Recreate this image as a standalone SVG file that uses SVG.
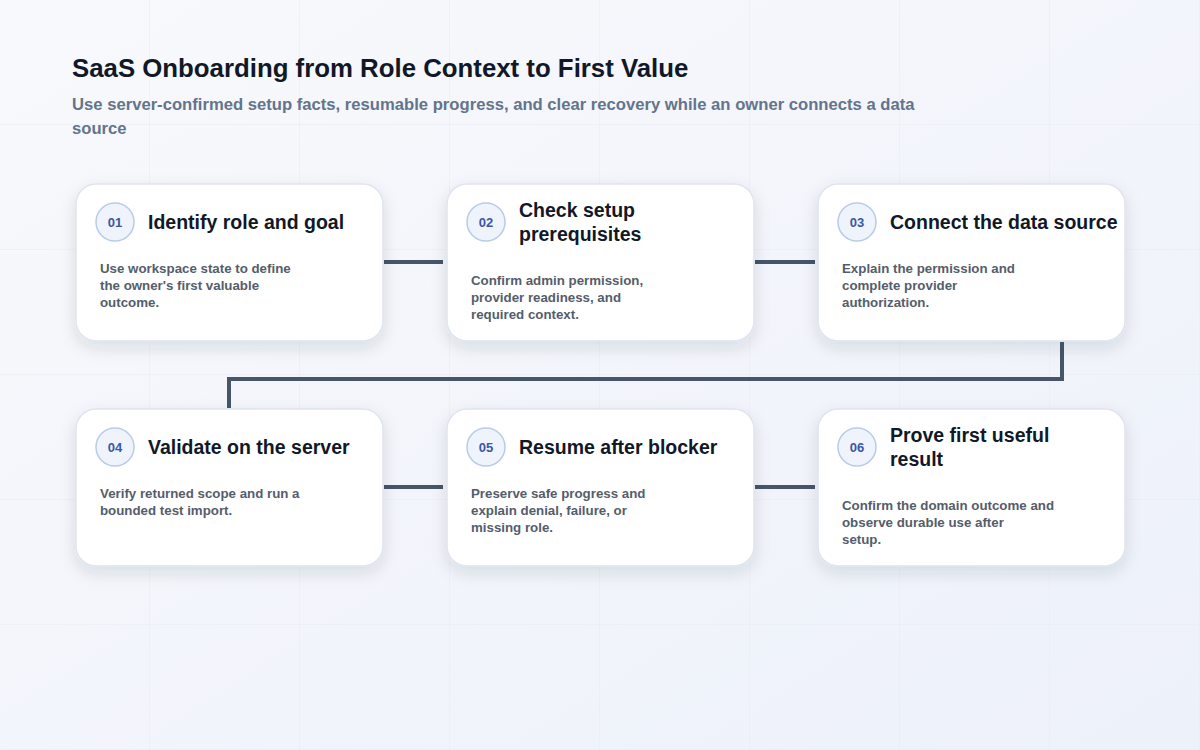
<svg xmlns="http://www.w3.org/2000/svg" width="1200" height="750" viewBox="0 0 1200 750">
<defs>
<linearGradient id="bg" x1="0" y1="0" x2="1" y2="1">
<stop offset="0" stop-color="#f8f9fc"/>
<stop offset="1" stop-color="#edf1fa"/>
</linearGradient>
<pattern id="grid" width="150" height="125" patternUnits="userSpaceOnUse">
<path d="M150 0V125M0 125H150" fill="none" stroke="#e6eaf2" stroke-width="1"/>
</pattern>
<filter id="sh" x="-20%" y="-20%" width="140%" height="150%">
<feDropShadow dx="0" dy="6" stdDeviation="8" flood-color="#1e293b" flood-opacity="0.12"/>
</filter>
</defs>
<style>
.card{fill:#ffffff;stroke:#dfe4ee;stroke-width:1.5}
.badge{fill:#eef3fc;stroke:#b9cbea;stroke-width:1.5}
.num{font-family:"Liberation Sans",Arial,sans-serif;font-weight:700;font-size:13px;fill:#3b57a6;text-anchor:middle}
.ttl{font-family:"Liberation Sans",Arial,sans-serif;font-weight:700;font-size:19.5px;fill:#111827}
.desc{font-family:"Liberation Sans",Arial,sans-serif;font-weight:700;font-size:13.3px;fill:#555d6b}
.conn{fill:none;stroke:#475569;stroke-width:4;stroke-linejoin:miter}
.h1{font-family:"Liberation Sans",Arial,sans-serif;font-weight:700;font-size:25.8px;fill:#111827}
.sub{font-family:"Liberation Sans",Arial,sans-serif;font-weight:700;font-size:16.65px;fill:#64748b}
</style>
<rect width="1200" height="750" fill="url(#bg)"/>
<rect width="1200" height="750" fill="url(#grid)"/>
<text class="h1" x="72" y="77">SaaS Onboarding from Role Context to First Value</text>
<text class="sub" x="72" y="110">Use server-confirmed setup facts, resumable progress, and clear recovery while an owner connects a data</text>
<text class="sub" x="72" y="134">source</text>
<g id="connectors">
<path class="conn" d="M384 262H443"/>
<path class="conn" d="M755 262H815"/>
<path class="conn" d="M1062 342V379H229V408"/>
<path class="conn" d="M384 487H443"/>
<path class="conn" d="M755 487H815"/>
</g>
<g id="node1">
<rect class="card" x="76" y="184" width="307" height="157" rx="20" filter="url(#sh)"/>
<circle class="badge" cx="115" cy="222" r="19"/>
<text class="num" x="115" y="227">01</text>
<text class="ttl" x="148" y="229">Identify role and goal</text>
<text class="desc" x="100" y="273">Use workspace state to define</text>
<text class="desc" x="100" y="290">the owner's first valuable</text>
<text class="desc" x="100" y="307">outcome.</text>
</g>
<g id="node2">
<rect class="card" x="447" y="184" width="307" height="157" rx="20" filter="url(#sh)"/>
<circle class="badge" cx="486" cy="222" r="19"/>
<text class="num" x="486" y="227">02</text>
<text class="ttl" x="519" y="217">Check setup</text>
<text class="ttl" x="519" y="241">prerequisites</text>
<text class="desc" x="471" y="285">Confirm admin permission,</text>
<text class="desc" x="471" y="302">provider readiness, and</text>
<text class="desc" x="471" y="319">required context.</text>
</g>
<g id="node3">
<rect class="card" x="818" y="184" width="307" height="157" rx="20" filter="url(#sh)"/>
<circle class="badge" cx="857" cy="222" r="19"/>
<text class="num" x="857" y="227">03</text>
<text class="ttl" x="890" y="229">Connect the data source</text>
<text class="desc" x="842" y="273">Explain the permission and</text>
<text class="desc" x="842" y="290">complete provider</text>
<text class="desc" x="842" y="307">authorization.</text>
</g>
<g id="node4">
<rect class="card" x="76" y="409" width="307" height="157" rx="20" filter="url(#sh)"/>
<circle class="badge" cx="115" cy="447" r="19"/>
<text class="num" x="115" y="452">04</text>
<text class="ttl" x="148" y="454">Validate on the server</text>
<text class="desc" x="100" y="498">Verify returned scope and run a</text>
<text class="desc" x="100" y="515">bounded test import.</text>
</g>
<g id="node5">
<rect class="card" x="447" y="409" width="307" height="157" rx="20" filter="url(#sh)"/>
<circle class="badge" cx="486" cy="447" r="19"/>
<text class="num" x="486" y="452">05</text>
<text class="ttl" x="519" y="454">Resume after blocker</text>
<text class="desc" x="471" y="498">Preserve safe progress and</text>
<text class="desc" x="471" y="515">explain denial, failure, or</text>
<text class="desc" x="471" y="532">missing role.</text>
</g>
<g id="node6">
<rect class="card" x="818" y="409" width="307" height="157" rx="20" filter="url(#sh)"/>
<circle class="badge" cx="857" cy="447" r="19"/>
<text class="num" x="857" y="452">06</text>
<text class="ttl" x="890" y="442">Prove first useful</text>
<text class="ttl" x="890" y="466">result</text>
<text class="desc" x="842" y="510">Confirm the domain outcome and</text>
<text class="desc" x="842" y="527">observe durable use after</text>
<text class="desc" x="842" y="544">setup.</text>
</g>
</svg>
